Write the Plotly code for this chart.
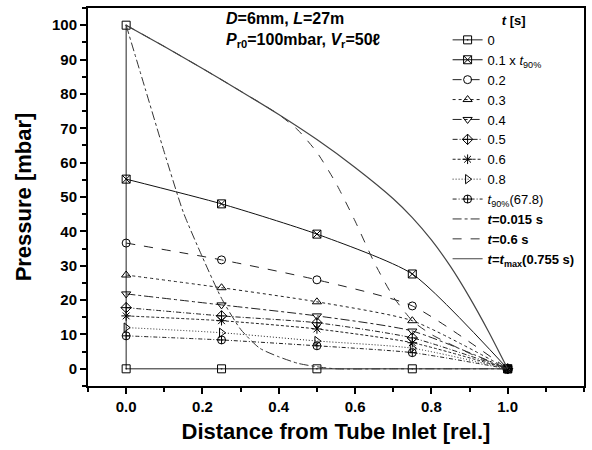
import plotly.graph_objects as go

# ---- data ----
x_m = [0.0, 0.25, 0.5, 0.75, 1.0]
x_t0 = [0.0, 0.0, 0.25, 0.5, 0.75, 1.0]
y_t0 = [100, 0, 0, 0, 0, 0]
y_01t90 = [55.2, 48.0, 39.2, 27.6, 0.0]
y_02 = [36.6, 31.7, 25.9, 18.3, 0.0]
y_03 = [27.3, 23.6, 19.5, 14.0, 0.0]
y_04 = [21.8, 18.6, 15.4, 11.0, 0.0]
y_05 = [17.8, 15.4, 13.4, 9.0, 0.0]
y_06 = [15.4, 14.0, 11.6, 7.6, 0.0]
y_08 = [12.0, 10.5, 8.1, 6.0, 0.0]
y_t90 = [9.6, 8.4, 6.7, 4.7, 0.0]

x_015 = [0.0, 0.05, 0.1, 0.15, 0.2, 0.25, 0.3, 0.35, 0.4, 0.45, 0.5, 0.55, 0.7, 0.85, 1.0]
y_015 = [100, 81.5, 63, 45.5, 32.5, 20.5, 11.5, 6, 3.5, 1.6, 0.6, 0.0, 0.0, 0.0, 0.0]

x_06s = [0.0, 0.1, 0.2, 0.3, 0.4, 0.45, 0.5, 0.55, 0.6, 0.65, 0.7, 0.75, 0.8, 0.9, 1.0]
y_06s = [100, 93.8, 87.4, 80.8, 74, 69.5, 63, 54, 43, 31, 21, 14, 10, 4.5, 0.0]

x_tmax = [0.0, 0.1, 0.2, 0.3, 0.4, 0.5, 0.6, 0.7, 0.75, 0.8, 0.85, 0.9, 0.95, 1.0]
y_tmax = [100, 93.8, 87.4, 80.8, 74, 66.7, 58.6, 49.5, 44, 37.5, 29.8, 20.8, 10.8, 0.0]

names = ["0", "0.1 x <i>t</i><sub>90%</sub>", "0.2", "0.3", "0.4", "0.5", "0.6", "0.8",
         "<i>t</i><sub>90%</sub>(67.8)",
         "<b><i>t</i>=0.015 s</b>", "<b><i>t</i>=0.6 s</b>",
         "<b><i>t</i>=<i>t</i><sub>max</sub>(0.755 s)</b>"]

FONT = "Liberation Sans, Arial"
fig = go.Figure()

def add_marked(x, y, name, symbol, dash, color="#222"):
    fig.add_trace(go.Scatter(
        x=x, y=y, name=name, mode="lines+markers",
        line=dict(color=color, width=1, dash=dash, shape="spline", smoothing=0.6),
        marker=dict(symbol=symbol, size=8, color="black",
                    line=dict(color="black", width=1)),
    ))

fig.add_trace(go.Scatter(
    x=x_t0, y=y_t0, name=names[0], mode="lines+markers",
    line=dict(color="#222", width=1),
    marker=dict(symbol="square-open-dot", size=8, color="black", line=dict(width=1)),
))
add_marked(x_m, y_01t90, names[1], "square-x-open", "solid", "#111")
add_marked(x_m, y_02, names[2], "circle-open", "dash")
add_marked(x_m, y_03, names[3], "triangle-up-open", "dot")
add_marked(x_m, y_04, names[4], "triangle-down-open", "dashdot")
add_marked(x_m, y_05, names[5], "diamond-cross-open", "5px,2px,1px,2px")
add_marked(x_m, y_06, names[6], "asterisk-open", "3px,2px")
add_marked(x_m, y_08, names[7], "triangle-right-open", "1px,2px")
add_marked(x_m, y_t90, names[8], "circle-cross-open", "4px,2px,1px,2px")

fig.add_trace(go.Scatter(x=x_015, y=y_015, name=names[9], mode="lines",
                         line=dict(color="#333", width=1, dash="dashdot", shape="spline", smoothing=0.6)))
fig.add_trace(go.Scatter(x=x_06s, y=y_06s, name=names[10], mode="lines",
                         line=dict(color="#333", width=1, dash="dash", shape="spline", smoothing=0.6)))
fig.add_trace(go.Scatter(x=x_tmax, y=y_tmax, name=names[11], mode="lines",
                         line=dict(color="#444", width=1.2, shape="spline", smoothing=0.6)))

axis_common = dict(showgrid=False, zeroline=False, showline=True, linecolor="black",
                   linewidth=2, mirror=True, ticks="outside", tickcolor="black",
                   ticklen=6, tickwidth=2,
                   tickfont=dict(family=FONT, size=15, color="black", weight="bold"))

fig.update_xaxes(range=[-0.1, 1.2], tickvals=[0, 0.2, 0.4, 0.6, 0.8, 1.0],
                 ticktext=["0.0", "0.2", "0.4", "0.6", "0.8", "1.0"],
                 minor=dict(dtick=0.1, tick0=0, ticks="outside", ticklen=4, tickwidth=2, tickcolor="black"),
                 title=dict(text="<b>Distance from Tube Inlet [rel.]</b>",
                            font=dict(family=FONT, size=22, color="black"),
                            standoff=10),
                 **axis_common)
fig.update_yaxes(range=[-5, 105], tickvals=list(range(0, 101, 10)),
                 minor=dict(dtick=5, tick0=0, ticks="outside", ticklen=4, tickwidth=2, tickcolor="black"),
                 title=dict(text="<b>Pressure [mbar]</b>",
                            font=dict(family=FONT, size=22, color="black"),
                            standoff=14),
                 **axis_common)

fig.add_annotation(xref="paper", yref="paper", x=0.275, y=0.972, xanchor="left", yanchor="middle",
                   text="<b><i>D</i>=6mm, <i>L</i>=27m</b>", showarrow=False,
                   font=dict(family=FONT, size=16, color="black"))
fig.add_annotation(xref="paper", yref="paper", x=0.275, y=0.915, xanchor="left", yanchor="middle",
                   text="<b><i>P</i><sub>r0</sub>=100mbar, <i>V</i><sub>r</sub>=50ℓ</b>", showarrow=False,
                   font=dict(family=FONT, size=16, color="black"))

fig.update_layout(
    width=592, height=450,
    margin=dict(l=88, r=6, t=7, b=64),
    paper_bgcolor="white", plot_bgcolor="white",
    font=dict(family=FONT, color="black"),
    legend=dict(x=0.725, y=1.0, xanchor="left", yanchor="top",
                bgcolor="rgba(0,0,0,0)", borderwidth=0,
                font=dict(family="Liberation Sans Narrow, Liberation Sans, Arial", size=13, color="black"),
                title=dict(text="<b><i>t</i> [s]</b>", side="top center",
                           font=dict(size=13)),
                itemwidth=30, tracegroupgap=0),
    showlegend=True,
)

fig.write_html("out.html")
